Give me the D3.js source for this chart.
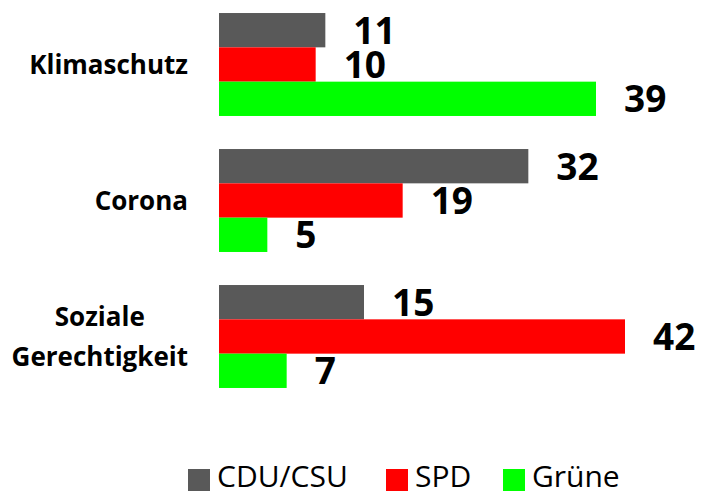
<!DOCTYPE html>
<html>
<head>
<meta charset="utf-8">
<script src="https://cdn.jsdelivr.net/npm/d3@7"></script>
<style>
  body { margin: 0; background: #fff; }
  svg { display: block; font-family: "Open Sans", sans-serif; }
</style>
</head>
<body>
<svg id="chart" width="702" height="496"></svg>
<script>
// data
var categories = ["Klimaschutz", "Corona", "Soziale Gerechtigkeit"];
var categoryLines = [["Klimaschutz"], ["Corona"], ["Soziale", "Gerechtigkeit"]];
var parties = ["CDU/CSU", "SPD", "Grüne"];
var cduValues = [11, 32, 15];
var spdValues = [10, 19, 42];
var grueneValues = [39, 5, 7];
var partyColors = ["#595959", "#ff0000", "#00ff00"];

var svg = d3.select("#chart");

var rows = [];
categories.forEach(function(c, i) {
  rows.push({ cat: c, party: parties[0], value: cduValues[i] });
  rows.push({ cat: c, party: parties[1], value: spdValues[i] });
  rows.push({ cat: c, party: parties[2], value: grueneValues[i] });
});

var xScale = d3.scaleLinear().domain([0, 45]).range([219, 654]);

var yScale = d3.scaleBand()
  .domain(categories)
  .range([-3.5, 404.5])
  .paddingInner(0.243)
  .paddingOuter(0.1215);

var ySub = d3.scaleBand()
  .domain(parties)
  .range([0, yScale.bandwidth()]);

var color = d3.scaleOrdinal().domain(parties).range(partyColors);

svg.selectAll(".bar")
  .data(rows)
  .enter()
  .append("rect")
  .attr("class", "bar")
  .attr("x", xScale(0))
  .attr("y", function(d) { return yScale(d.cat) + ySub(d.party); })
  .attr("width", function(d) { return xScale(d.value) - xScale(0); })
  .attr("height", ySub.bandwidth())
  .attr("fill", function(d) { return color(d.party); });

svg.selectAll(".value")
  .data(rows)
  .enter()
  .append("text")
  .attr("class", "value")
  .attr("x", function(d) { return xScale(d.value) + 28; })
  .attr("y", function(d) { return yScale(d.cat) + ySub(d.party) + ySub.bandwidth() / 2; })
  .attr("dy", "0.36em")
  .style("font-size", "37px")
  .style("font-weight", "bold")
  .attr("fill", "#000")
  .text(function(d) { return d.value; });

// category labels, multi-line ones centred on the widest line
var catG = svg.selectAll(".cat")
  .data(categories)
  .enter()
  .append("text")
  .attr("class", "cat")
  .style("font-size", "26px")
  .style("font-weight", "bold")
  .attr("fill", "#000")
  .attr("text-anchor", "middle");

catG.each(function(c, i) {
  var t = d3.select(this);
  var lines = categoryLines[i];
  var mid = yScale(c) + yScale.bandwidth() / 2;
  var lineH = 40;
  lines.forEach(function(l, j) {
    t.append("tspan")
      .attr("y", mid + (j - (lines.length - 1) / 2) * lineH)
      .attr("dy", "0.36em")
      .text(l);
  });
  var maxW = 0;
  t.selectAll("tspan").each(function() {
    maxW = Math.max(maxW, this.getComputedTextLength());
  });
  t.selectAll("tspan").attr("x", 188 - maxW / 2);
});

// legend
var legendX = [188, 386, 503];
var legend = svg.selectAll(".legend")
  .data(parties)
  .enter()
  .append("g")
  .attr("class", "legend")
  .attr("transform", function(d, i) { return "translate(" + legendX[i] + ",469)"; });

legend.append("rect")
  .attr("width", 22)
  .attr("height", 22)
  .attr("fill", function(d) { return color(d); });

legend.append("text")
  .attr("x", 29)
  .attr("y", 18)
  .style("font-size", "30px")
  .attr("fill", "#000")
  .text(function(d) { return d; });
</script>
</body>
</html>
